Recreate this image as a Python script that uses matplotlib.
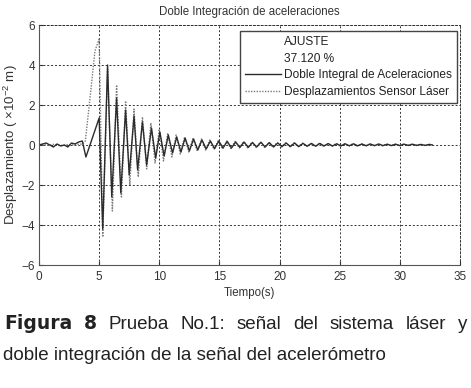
import matplotlib
matplotlib.use("Agg")
import matplotlib.pyplot as plt
from matplotlib.lines import Line2D

# Double integral of accelerations (solid): time (s), displacement (x10^-2 m)
t_integral = [0.0, 0.3, 0.6, 0.9, 1.2, 1.5, 1.8, 2.1, 2.4, 2.7, 3.0, 3.3, 3.6,
              3.9, 5.0, 5.3, 5.7, 6.05, 6.45, 6.8, 7.2, 7.5, 7.9, 8.2, 8.6, 8.95,
              9.35, 9.7, 10.05, 10.4, 10.75, 11.1, 11.45, 11.8, 12.15, 12.5, 12.85,
              13.2, 13.55, 13.9, 14.25, 14.6, 14.95, 15.3, 15.65, 16.0, 16.35, 16.7,
              17.05, 17.4, 17.75, 18.1, 18.45, 18.8, 19.15, 19.5, 19.85, 20.2, 20.55,
              20.9, 21.25, 21.6, 21.95, 22.3, 22.65, 23.0, 23.35, 23.7, 24.05, 24.4,
              24.75, 25.1, 25.45, 25.8, 26.15, 26.5, 26.85, 27.2, 27.55, 27.9, 28.25,
              28.6, 28.95, 29.3, 29.65, 30.0, 30.35, 30.7, 31.05, 31.4, 31.75, 32.1,
              32.45, 32.7]
y_integral = [0.0, 0.05, 0.1, 0.0, -0.1, 0.05, -0.05, 0.0, -0.1, 0.1, 0.05, 0.15, 0.2,
              -0.6, 1.35, -4.2, 4.0, -2.6, 2.35, -2.4, 1.75, -1.5, 1.45, -1.25, 1.15, -1.0,
              0.85, -0.65, 0.65, -0.55, 0.5, -0.4, 0.4, -0.35, 0.35, -0.3, 0.3,
              -0.25, 0.25, -0.2, 0.2, -0.18, 0.2, -0.15, 0.18, -0.15, 0.15, -0.12,
              0.15, -0.12, 0.12, -0.1, 0.14, -0.1, 0.12, -0.1, 0.1, -0.08, 0.1,
              -0.08, 0.1, -0.08, 0.08, -0.06, 0.08, -0.06, 0.08, -0.05, 0.07, -0.05,
              0.06, -0.05, 0.06, -0.04, 0.06, -0.04, 0.05, -0.04, 0.05, -0.03, 0.05,
              -0.03, 0.04, -0.03, 0.04, -0.03, 0.04, -0.02, 0.04, -0.02, 0.03, -0.02,
              0.03, 0.0]

# Laser sensor displacements (dotted)
t_laser = [0.0, 0.4, 0.8, 1.2, 1.6, 2.0, 2.4, 2.8, 3.2, 3.6, 3.85, 4.25, 4.65,
           5.0, 5.3, 5.7, 6.1, 6.45, 6.85, 7.2, 7.55, 7.9, 8.25, 8.6, 8.95, 9.3,
           9.65, 10.0, 10.35, 10.7, 11.05, 11.4, 11.75, 12.1, 12.45, 12.8, 13.15,
           13.5, 13.85, 14.2, 14.55, 14.9, 15.25, 15.6, 15.95, 16.3, 16.65, 17.0,
           17.35, 17.7, 18.05, 18.4, 18.75, 19.1, 19.45, 19.8, 20.15, 20.5, 20.85,
           21.2, 21.55, 21.9, 22.25, 22.6, 22.95, 23.3, 23.65, 24.0, 24.35, 24.7,
           25.05, 25.4, 25.75, 26.1, 26.45, 26.8, 27.15, 27.5, 27.85, 28.2, 28.55,
           28.9, 29.25, 29.6, 29.95, 30.3, 30.65, 31.0, 31.35, 31.7, 32.05, 32.4,
           32.7]
y_laser = [0.0, 0.02, -0.02, 0.03, 0.0, -0.03, 0.02, 0.0, 0.03, 0.05, 0.2, 2.4, 4.7,
           5.3, -4.6, 3.8, -3.3, 3.0, -2.6, 2.2, -2.0, 1.8, -1.6, 1.4, -1.2, 1.1,
           -0.9, 0.8, -0.8, 0.6, -0.6, 0.5, -0.45, 0.4, -0.35, 0.35, -0.3,
           0.3, -0.25, 0.25, -0.22, 0.22, -0.2, 0.2, -0.18, 0.18, -0.15, 0.16,
           -0.14, 0.15, -0.12, 0.14, -0.12, 0.12, -0.1, 0.12, -0.1, 0.1, -0.08,
           0.1, -0.08, 0.09, -0.07, 0.08, -0.07, 0.08, -0.06, 0.07, -0.06, 0.07,
           -0.05, 0.06, -0.05, 0.06, -0.05, 0.05, -0.04, 0.05, -0.04, 0.05, -0.04,
           0.04, -0.03, 0.04, -0.03, 0.04, -0.03, 0.04, -0.02, 0.03, -0.02, 0.03,
           0.0]

x_ticks = [0, 5, 10, 15, 20, 25, 30, 35]
y_ticks = [-6, -4, -2, 0, 2, 4, 6]

caption_bold = ["Figura", "8"]
caption_words = ["Prueba", "No.1:", "señal", "del", "sistema", "láser", "y"]
caption_line2 = "doble integración de la señal del acelerómetro"

plt.rcParams["font.family"] = ["Liberation Sans", "DejaVu Sans"]
plt.rcParams["mathtext.fontset"] = "custom"
plt.rcParams["mathtext.rm"] = "Liberation Sans"
plt.rcParams["mathtext.it"] = "Liberation Sans:italic"

W, H = 471, 388
fig = plt.figure(figsize=(W / 100, H / 100), dpi=100)
ax = fig.add_axes([39 / W, 1 - 265 / H, (460 - 39) / W, (265 - 25) / H])

ax.plot(t_laser, y_laser, color="#7a7a7a", lw=1.0, ls=(0, (1, 1)))
ax.plot(t_integral, y_integral, color="#2b2b2b", lw=1.0)

ax.set_xlim(0, 35)
ax.set_ylim(-6, 6)
ax.set_xticks(x_ticks)
ax.set_yticks(y_ticks)
ax.tick_params(direction="in", length=3, labelsize=8.5, colors="#333333")
ax.tick_params(axis="x", pad=4)
ax.tick_params(axis="y", pad=3)
ax.grid(True, color="#333333", ls=(0, (2, 2)), lw=0.7)
for side in ["left", "bottom"]:
    ax.spines[side].set_color("#555555")
for side in ["top", "right"]:
    ax.spines[side].set_color("#333333")
    ax.spines[side].set_linestyle((0, (2, 2)))
    ax.spines[side].set_linewidth(0.7)

ax.set_title("Doble Integración de aceleraciones", fontsize=8.3, color="#333333", pad=7)
ax.set_xlabel("Tiempo(s)", fontsize=8.3, color="#333333", labelpad=3)
ax.set_ylabel(r"Desplazamiento ( $\times$10$^{-2}$ m)", fontsize=9.5, color="#333333", labelpad=1)

handles = [
    Line2D([], [], color="none"),
    Line2D([], [], color="none"),
    Line2D([], [], color="#2b2b2b", lw=1.0),
    Line2D([], [], color="#7a7a7a", lw=1.0, ls=(0, (1, 1))),
]
labels = ["AJUSTE", "37.120 %", "Doble Integral de Aceleraciones",
          "Desplazamientos Sensor Láser"]
leg = ax.legend(handles, labels, loc="upper right",
                bbox_to_anchor=(457 / W, 1 - 31 / H), bbox_transform=fig.transFigure,
                fontsize=8.6, frameon=True, fancybox=False, framealpha=1,
                edgecolor="#444444", borderaxespad=0, handlelength=3.0,
                handletextpad=0.3, labelspacing=0.4, borderpad=0.4)
leg.get_frame().set_linewidth(1.0)
for txt in leg.get_texts():
    txt.set_color("#222222")

# caption: first line justified between 4 and 467 px
cap_size = 13.5
y1 = 1 - 329 / H
y2 = 1 - 360 / H
line1 = []
for w in caption_bold:
    line1.append(fig.text(0, y1, w, fontsize=cap_size, family="DejaVu Sans",
                          fontweight="bold", va="baseline", color="#222222"))
for w in caption_words:
    line1.append(fig.text(0, y1, w, fontsize=cap_size, va="baseline", color="#222222"))
fig.text(3 / W, y2, caption_line2, fontsize=cap_size, va="baseline", color="#222222")

fig.canvas.draw()
renderer = fig.canvas.get_renderer()
widths = [t.get_window_extent(renderer).width for t in line1]
left, right = 4, 467
gap = (right - left - sum(widths)) / (len(line1) - 1)
x = left
for t, w in zip(line1, widths):
    t.set_x(x / W)
    x += w + gap

fig.savefig("out.png", dpi=100)
